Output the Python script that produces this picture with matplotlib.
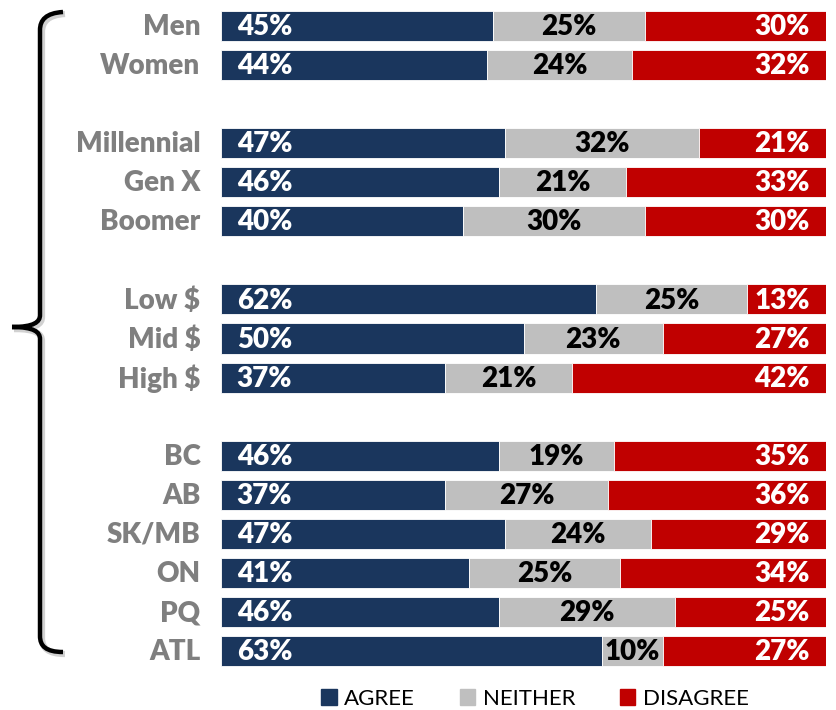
import numpy as np
import matplotlib.pyplot as plt
from matplotlib.transforms import Affine2D
from matplotlib.path import Path
from matplotlib.patches import PathPatch, Patch

plt.rcParams['font.family'] = ['Lato', 'DejaVu Sans']

# groups, with an empty slot between them
labels = ["Men", "Women", "",
          "Millennial", "Gen X", "Boomer", "",
          "Low $", "Mid $", "High $", "",
          "BC", "AB", "SK/MB", "ON", "PQ", "ATL"]
agree    = [45, 44, None, 47, 46, 40, None, 62, 50, 37, None, 46, 37, 47, 41, 46, 63]
neither  = [25, 24, None, 32, 21, 30, None, 25, 23, 21, None, 19, 27, 24, 25, 29, 10]
disagree = [30, 32, None, 21, 33, 30, None, 13, 27, 42, None, 35, 36, 29, 34, 25, 27]

c_agree = "#1a365d"
c_neither = "#bfbfbf"
c_disagree = "#c00000"

fig = plt.figure(figsize=(8.36, 7.10), dpi=100)
ax = fig.add_axes([221 / 836, 1 - 670.5 / 710, (826 - 221) / 836, (670.5 - 6.5) / 710])

H = 0.77
FS = 20
for i, lab in enumerate(labels):
    if not lab:
        continue
    a, n, d = agree[i], neither[i], disagree[i]
    ax.barh(i, a, height=H, left=0, color=c_agree, edgecolor="white", linewidth=0.6)
    ax.barh(i, n, height=H, left=a, color=c_neither, edgecolor="white", linewidth=0.6)
    ax.barh(i, d, height=H, left=a + n, color=c_disagree, edgecolor="white", linewidth=0.6)
    ax.text(2.6, i + 0.03, f"{a}%", color="white", fontsize=FS, fontweight="heavy",
            ha="left", va="center")
    ax.text(a + n / 2, i + 0.03, f"{n}%", color="black", fontsize=FS, fontweight="heavy",
            ha="center", va="center")
    ax.text(97.3, i + 0.03, f"{d}%", color="white", fontsize=FS, fontweight="heavy",
            ha="right", va="center")
    ax.text(-3.4, i + 0.03, lab, color="#7f7f7f", fontsize=FS, fontweight="heavy",
            ha="right", va="center", clip_on=False)

ax.set_xlim(0, 100)
ax.set_ylim(16.5, -0.5)
ax.axis("off")

# bracket on the left, in pixel coordinates
W, Hpx = 836, 710
def fp(x, y):
    return (x / W, 1 - y / Hpx)

verts = [fp(63, 12), fp(46, 13), fp(40, 20), fp(40, 30),
         fp(40, 315), fp(40, 322), fp(34, 327), fp(12, 327),
         fp(34, 327), fp(40, 332), fp(40, 339),
         fp(40, 636), fp(40, 646), fp(46, 652), fp(63, 652)]
codes = [Path.MOVETO, Path.CURVE4, Path.CURVE4, Path.CURVE4,
         Path.LINETO, Path.CURVE4, Path.CURVE4, Path.CURVE4,
         Path.CURVE4, Path.CURVE4, Path.CURVE4,
         Path.LINETO, Path.CURVE4, Path.CURVE4, Path.CURVE4]
path = Path(verts, codes)
shadow = PathPatch(path, facecolor="none", edgecolor="#000000", alpha=0.18, linewidth=4.5)
shadow.set_transform(fig.transFigure + Affine2D().translate(2, -2))
fig.add_artist(shadow)
fig.add_artist(PathPatch(path, transform=fig.transFigure, facecolor="none",
                         edgecolor="black", linewidth=3.2, capstyle="butt"))

handles = [Patch(color=c_agree, label="AGREE"),
           Patch(color=c_neither, label="NEITHER"),
           Patch(color=c_disagree, label="DISAGREE")]
fig.legend(handles=handles, loc="center", bbox_to_anchor=(535 / W, 1 - 699 / Hpx),
           ncol=3, frameon=False, fontsize=16, handlelength=0.7, handleheight=0.7,
           handletextpad=0.35, columnspacing=2.0)

fig.savefig("out.png", dpi=100)
